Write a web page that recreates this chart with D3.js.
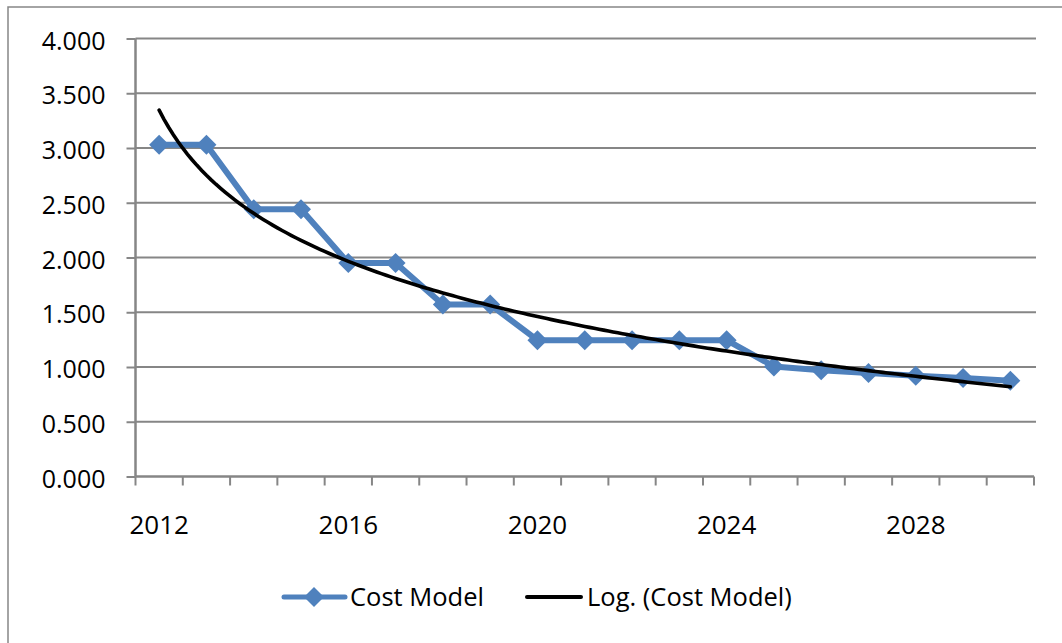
<!DOCTYPE html>
<html>
<head>
<meta charset="utf-8">
<script src="https://cdn.jsdelivr.net/npm/d3@7"></script>
<style>
  html, body { margin: 0; padding: 0; background: #fff; }
  svg { display: block; }
</style>
</head>
<body>
<svg id="chart" width="1062" height="643"></svg>
<script>
// values
const years = [2012, 2013, 2014, 2015, 2016, 2017, 2018, 2019, 2020, 2021,
               2022, 2023, 2024, 2025, 2026, 2027, 2028, 2029, 2030];
const costModel = [3.03, 3.03, 2.44, 2.44, 1.95, 1.95, 1.57, 1.57, 1.245, 1.245,
                   1.245, 1.245, 1.245, 1.005, 0.97, 0.945, 0.92, 0.9, 0.875];
const yTicks = [0, 0.5, 1, 1.5, 2, 2.5, 3, 3.5, 4];
const xLabelYears = [2012, 2016, 2020, 2024, 2028];

const BLUE = "#4f81bd";
const GRID = "#868686";
const FONT = "'Open Sans', 'Noto Sans', sans-serif";

const svg = d3.select("#chart");

// outer chart frame (cut off at right / bottom in the original)
svg.append("rect")
  .attr("x", 8).attr("y", 7)
  .attr("width", 1100).attr("height", 700)
  .attr("fill", "none").attr("stroke", GRID).attr("stroke-width", 1.5);

const xS = d3.scaleBand().domain(years).range([135.5, 1034]).padding(0);
const yS = d3.scaleLinear().domain([0, 4]).range([476.5, 38.5]);
const cx = yr => xS(yr) + xS.bandwidth() / 2;

// gridlines
svg.append("g").selectAll("line")
  .data(yTicks.filter(d => d > 0))
  .join("line")
  .attr("x1", 135.5).attr("x2", 1036)
  .attr("y1", d => yS(d)).attr("y2", d => yS(d))
  .attr("stroke", GRID).attr("stroke-width", 2);

// y axis
const yAxis = svg.append("g").attr("transform", "translate(135.5,0)")
  .call(d3.axisLeft(yS).tickValues(yTicks).tickSize(9).tickPadding(21)
    .tickFormat(d3.format(".3f")));
yAxis.select(".domain").attr("stroke", GRID).attr("stroke-width", 2.5)
  .attr("d", `M0,${yS(4)}V${yS(0)}`);
yAxis.selectAll(".tick line").attr("stroke", GRID).attr("stroke-width", 2);
yAxis.selectAll(".tick text")
  .attr("font-family", FONT).attr("font-size", 25).attr("fill", "#000")
  .attr("dy", "0.42em");

// x axis: ticks between categories
const xAxisG = svg.append("g").attr("transform", `translate(0,${yS(0)})`);
xAxisG.append("line")
  .attr("x1", 135.5).attr("x2", 1034)
  .attr("stroke", GRID).attr("stroke-width", 2.5);
const boundaries = years.map(y => xS(y)).concat([xS(years[years.length - 1]) + xS.bandwidth()]);
xAxisG.selectAll("line.tick")
  .data(boundaries)
  .join("line").attr("class", "tick")
  .attr("x1", d => d).attr("x2", d => d)
  .attr("y1", 0).attr("y2", 9)
  .attr("stroke", GRID).attr("stroke-width", 2);
xAxisG.selectAll("text")
  .data(xLabelYears)
  .join("text")
  .attr("x", d => cx(d)).attr("y", 57)
  .attr("text-anchor", "middle")
  .attr("font-family", FONT).attr("font-size", 26).attr("fill", "#000")
  .text(d => d);

// logarithmic trendline, least squares fit y = a*ln(x) + b, x = 1..n
const lx = years.map((_, i) => Math.log(i + 1));
const mx = d3.mean(lx), my = d3.mean(costModel);
const slope = d3.sum(lx, (v, i) => (v - mx) * (costModel[i] - my)) / d3.sum(lx, v => (v - mx) ** 2);
const intercept = my - slope * mx;
const xIdx = d3.scaleLinear().domain([1, years.length]).range([cx(years[0]), cx(years[years.length - 1])]);
const trendPts = d3.range(1, years.length + 0.001, 0.1).map(t => [xIdx(t), yS(slope * Math.log(t) + intercept)]);

// data series
svg.append("path")
  .datum(years.map((y, i) => [cx(y), yS(costModel[i])]))
  .attr("d", d3.line())
  .attr("fill", "none").attr("stroke", BLUE).attr("stroke-width", 6)
  .attr("stroke-linejoin", "round");

const diamond = d3.symbol().type(d3.symbolSquare).size(200);
svg.append("g").selectAll("path")
  .data(years)
  .join("path")
  .attr("d", diamond)
  .attr("transform", (y, i) => `translate(${cx(y)},${yS(costModel[i])}) rotate(45)`)
  .attr("fill", BLUE);

svg.append("path")
  .datum(trendPts)
  .attr("d", d3.line())
  .attr("fill", "none").attr("stroke", "#000").attr("stroke-width", 3.6)
  .attr("stroke-linecap", "round");

// legend
const lg = svg.append("g");
lg.append("line").attr("x1", 284).attr("x2", 345).attr("y1", 597).attr("y2", 597)
  .attr("stroke", BLUE).attr("stroke-width", 5).attr("stroke-linecap", "round");
lg.append("path").attr("d", diamond).attr("transform", "translate(314,597) rotate(45)")
  .attr("fill", BLUE);
lg.append("text").attr("x", 350).attr("y", 606)
  .attr("font-family", FONT).attr("font-size", 25.5).attr("fill", "#000")
  .text("Cost Model");
lg.append("line").attr("x1", 527).attr("x2", 581).attr("y1", 597).attr("y2", 597)
  .attr("stroke", "#000").attr("stroke-width", 4).attr("stroke-linecap", "round");
lg.append("text").attr("x", 587).attr("y", 606)
  .attr("font-family", FONT).attr("font-size", 25.5).attr("fill", "#000")
  .text("Log. (Cost Model)");
</script>
</body>
</html>
